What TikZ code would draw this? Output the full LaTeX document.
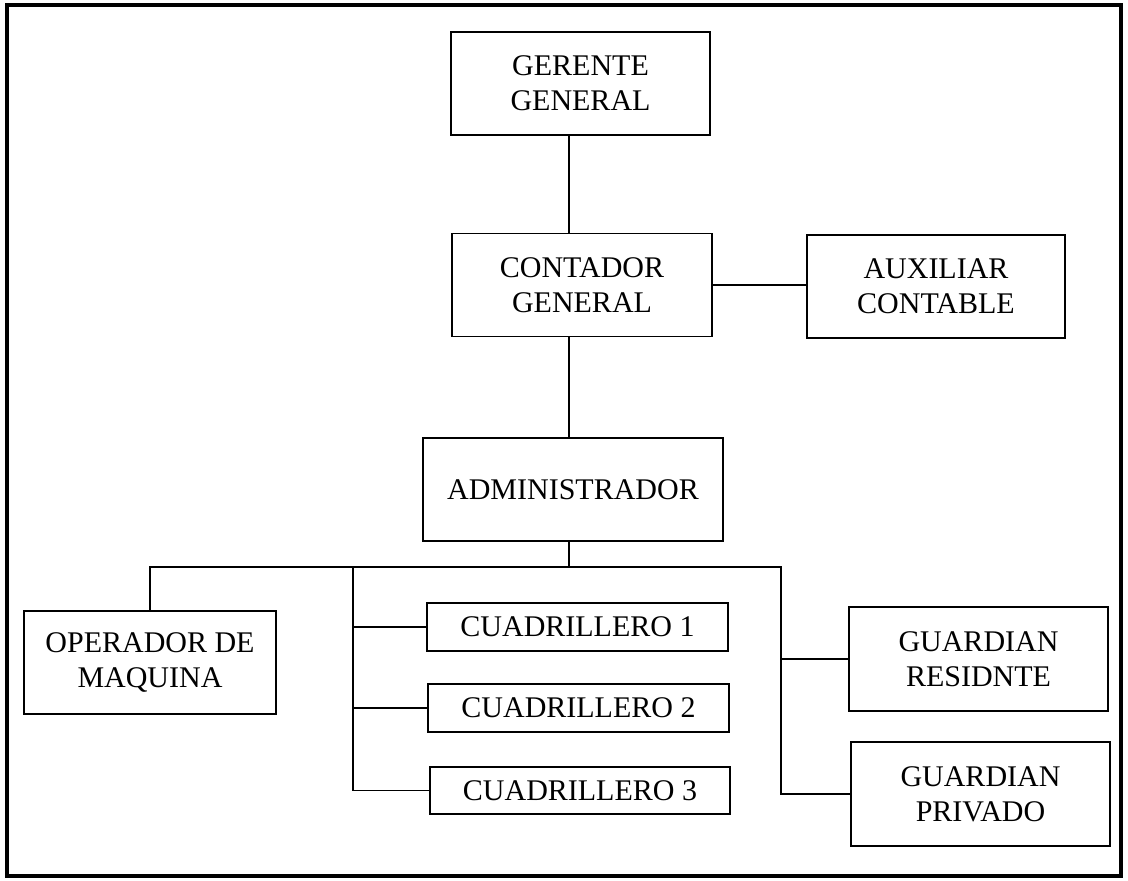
\documentclass[tikz,border=0pt]{standalone}
\usepackage{fontspec}
\setmainfont{Liberation Serif}
\begin{document}
\begin{tikzpicture}[x=1pt, y=-1pt, line join=miter, font=\fontsize{30}{35}\selectfont,
		puesto/.style={draw, line width=1.8pt, inner sep=0pt, align=center, minimum height=103pt},
		linea/.style={line width=1.6pt}]
					\useasboundingbox (0,0) rectangle (1128,881);
					\draw[line width=4pt] (7,5) rectangle (1121,876);
					% jefes
					\node[puesto, minimum width=259pt] (ger) at (580.5,83.5) {GERENTE\\GENERAL};
					\node[puesto, minimum width=260pt] (cont) at (582,285) {CONTADOR\\GENERAL};
					\node[puesto, minimum width=258pt] (aux) at (936,286.5) {AUXILIAR\\CONTABLE};
					\node[puesto, minimum width=300pt] (adm) at (573,489.5) {ADMINISTRADOR};
					% personal
					\node[puesto, minimum width=252pt] (oper) at (150,662.5) {OPERADOR DE\\MAQUINA};
					\node[puesto, minimum width=301pt, minimum height=48pt] (cua1) at (577.5,627) {CUADRILLERO 1};
					\node[puesto, minimum width=301pt, minimum height=48pt] (cua2) at (578.5,708) {CUADRILLERO 2};
					\node[puesto, minimum width=300pt, minimum height=47pt] (cua3) at (580,790.5) {CUADRILLERO 3};
					\node[puesto, minimum width=259pt, minimum height=104pt] (gres) at (978.5,659) {GUARDIAN\\RESIDNTE};
					\node[puesto, minimum width=259pt, minimum height=104pt] (gpri) at (980.5,794) {GUARDIAN\\PRIVADO};
					% lineas
					\coordinate (eje) at (569,567);
					\coordinate (ecua) at (353,567);
					\coordinate (egua) at (781,567);
					\draw[linea] (ger.south -| eje) -- (cont.north -| eje);
					\draw[linea] (cont.south -| eje) -- (adm.north -| eje);
					\draw[linea] (adm.south -| eje) -- (eje);
					\draw[linea] (cont.east) -- (cont.east -| aux.west);
					\draw[linea] (oper.north) |- (egua) |- (gpri.west);
					\draw[linea] (egua |- gres) -- (gres.west);
					\draw[linea] (ecua) |- (cua3.west);
					\draw[linea] (ecua |- cua1) -- (cua1.west);
					\draw[linea] (ecua |- cua2) -- (cua2.west);
				\end{tikzpicture}
\end{document}
